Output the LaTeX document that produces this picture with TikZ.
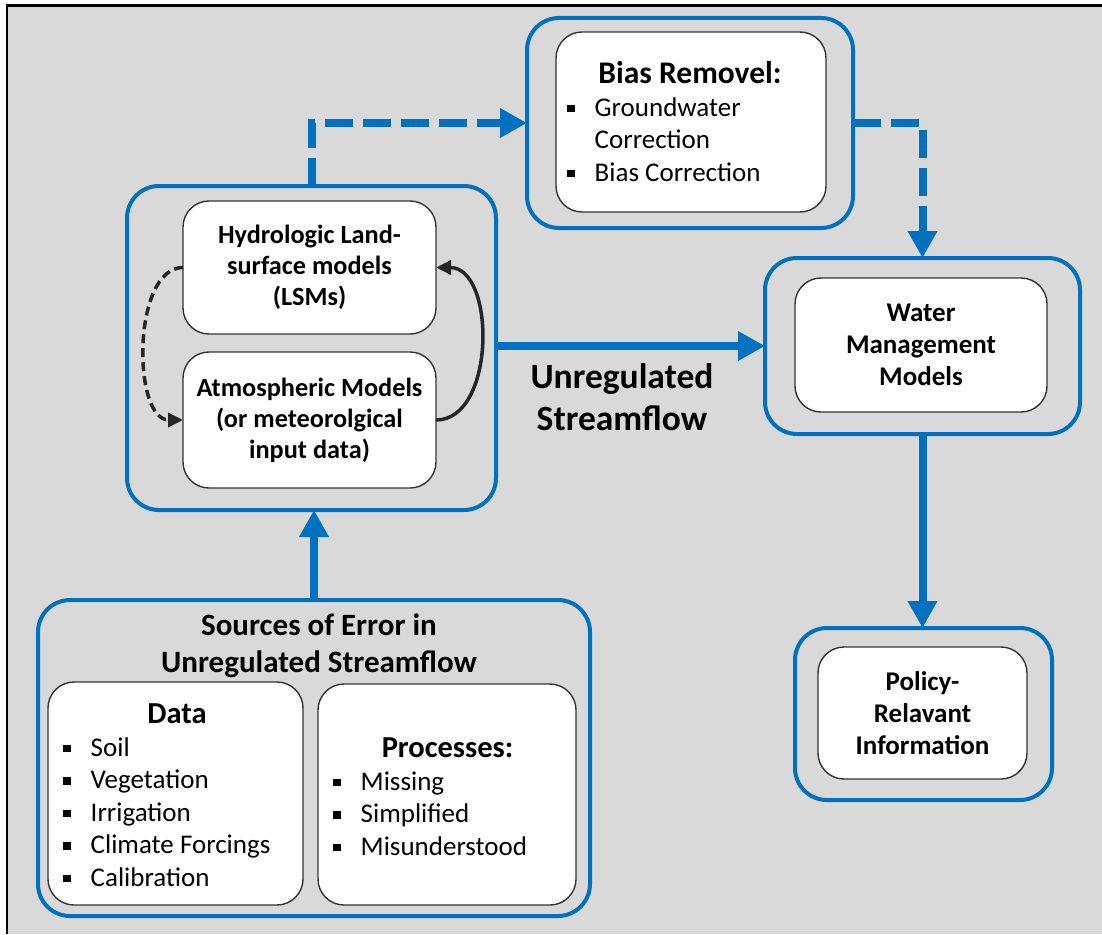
\documentclass[tikz,border=0pt]{standalone}
\usepackage{fontspec}
\setmainfont{Carlito}
\usetikzlibrary{arrows.meta}
\definecolor{flowblue}{HTML}{0070C0}
\definecolor{panelgray}{HTML}{D9D9D9}
\newcommand{\sqbul}{\rule[4pt]{7.5pt}{7.5pt}\hspace{20pt}}
\begin{document}
\begin{tikzpicture}[x=1pt,y=-1pt,
  outerbox/.style={draw=flowblue,line width=4pt,rounded corners=32pt,inner sep=0pt,outer sep=0pt},
  innerbox/.style={draw=black!80,line width=1.4pt,fill=white,rounded corners=26pt,inner sep=0pt,outer sep=0pt,align=center},
  boxhead/.style={font=\fontsize{31}{37}\selectfont\bfseries,inner sep=0pt,anchor=base},
  modeltext/.style={font=\fontsize{26.3}{31}\selectfont\bfseries},
  item/.style={font=\fontsize{27}{32.5}\selectfont,inner sep=0pt,anchor=base west},
  flow/.style={draw=flowblue,line width=8pt,-{Triangle[length=27pt,width=28pt]}},
  dflow/.style={flow,dash pattern=on 28pt off 10pt},
  loop/.style={draw=black!85,line width=3.5pt,-{Triangle[length=15pt,width=14pt]}}]
\useasboundingbox (0,0) rectangle (1102,934);
\fill[white] (0,0) rectangle (1102,934);
\fill[panelgray] (7,6) rectangle (1102,934);
\draw[line width=2.5pt] (7,934) -- (7,5.5) -- (1102,5.5);

% outer frames
\node[outerbox,minimum width=326pt,minimum height=210pt] (bias) at (690,123) {};
\node[outerbox,minimum width=369pt,minimum height=324pt] (model) at (311.5,348) {};
\node[outerbox,minimum width=315pt,minimum height=176pt] (water) at (922.5,346) {};
\node[outerbox,minimum width=257pt,minimum height=172pt] (policy) at (923.5,714) {};
\node[outerbox,minimum width=552pt,minimum height=316pt] (sources) at (314,758) {};

% inner boxes
\node[innerbox,minimum width=270pt,minimum height=180pt] (biasin) at (691,122) {};
\node[innerbox,modeltext,minimum width=253pt,minimum height=133pt] (hydro) at (309.5,267.5)
  {Hydrologic Land-\\surface models\\(LSMs)};
\node[innerbox,modeltext,minimum width=253pt,minimum height=136pt] (atmos) at (309.5,420)
  {Atmospheric Models\\(or meteorolgical\\input data)};
\node[innerbox,font=\fontsize{27}{32}\selectfont\bfseries,minimum width=252pt,minimum height=134pt] (wmm) at (921,345)
  {Water\\Management\\Models};
\node[innerbox,font=\fontsize{27}{32}\selectfont\bfseries,minimum width=209pt,minimum height=132pt] (pri) at (922.5,713)
  {Policy-\\Relavant\\Information};
\node[innerbox,minimum width=255pt,minimum height=223pt] (data) at (175.5,793.5) {};
\node[innerbox,minimum width=258pt,minimum height=221pt] (proc) at (447,794.5) {};

% texts
\node[boxhead,font=\fontsize{31.5}{37}\selectfont\bfseries] (biastitle) at (690,83) {Bias Removel:};
\node[item] (gw) at (567,116) {\sqbul Groundwater};
\node[item] (gwc) at (594.5,148) {Correction};
\node[item] (bc) at (567,181) {\sqbul Bias Correction};
\node[boxhead] (srct1) at (319,635) {Sources of Error in};
\node[boxhead] (srct2) at (319,672) {Unregulated Streamflow};
\node[boxhead,font=\fontsize{30.5}{37}\selectfont\bfseries] (datatitle) at (177,723) {Data};
\foreach \t [count=\i] in {Soil,Vegetation,Irrigation,Climate Forcings,Calibration}
  \node[item] (d\i) at (63,{756+32.5*(\i-1)}) {\sqbul\t};
\node[boxhead,font=\fontsize{30.5}{37}\selectfont\bfseries] (proctitle) at (447.5,757) {Processes:};
\foreach \t [count=\i] in {Missing,Simplified,Misunderstood}
  \node[item] (p\i) at (333,{790+32.5*(\i-1)}) {\sqbul\t};
\node[boxhead,font=\fontsize{35.5}{41}\selectfont\bfseries] (ul1) at (622,388) {Unregulated};
\node[boxhead,font=\fontsize{35.5}{41}\selectfont\bfseries] (ul2) at (622,430) {Streamflow};

% connectors
\draw[dflow] (model.north) |- (bias.west);
\draw[dflow] (bias.east) -| (water.north);
\draw[flow] (model.east |- water.west) -- (water.west);
\draw[flow] (water.south) -- (water.south |- policy.north);
\draw[flow] (sources.north) -- (sources.north |- model.south);
\draw[loop,dash pattern=on 9pt off 5pt] (hydro.west) .. controls +(-51,0) and +(-51,0) .. (atmos.west);
\draw[loop] (atmos.east) .. controls +(60,0) and +(60,0) .. (hydro.east);
\end{tikzpicture}
\end{document}
